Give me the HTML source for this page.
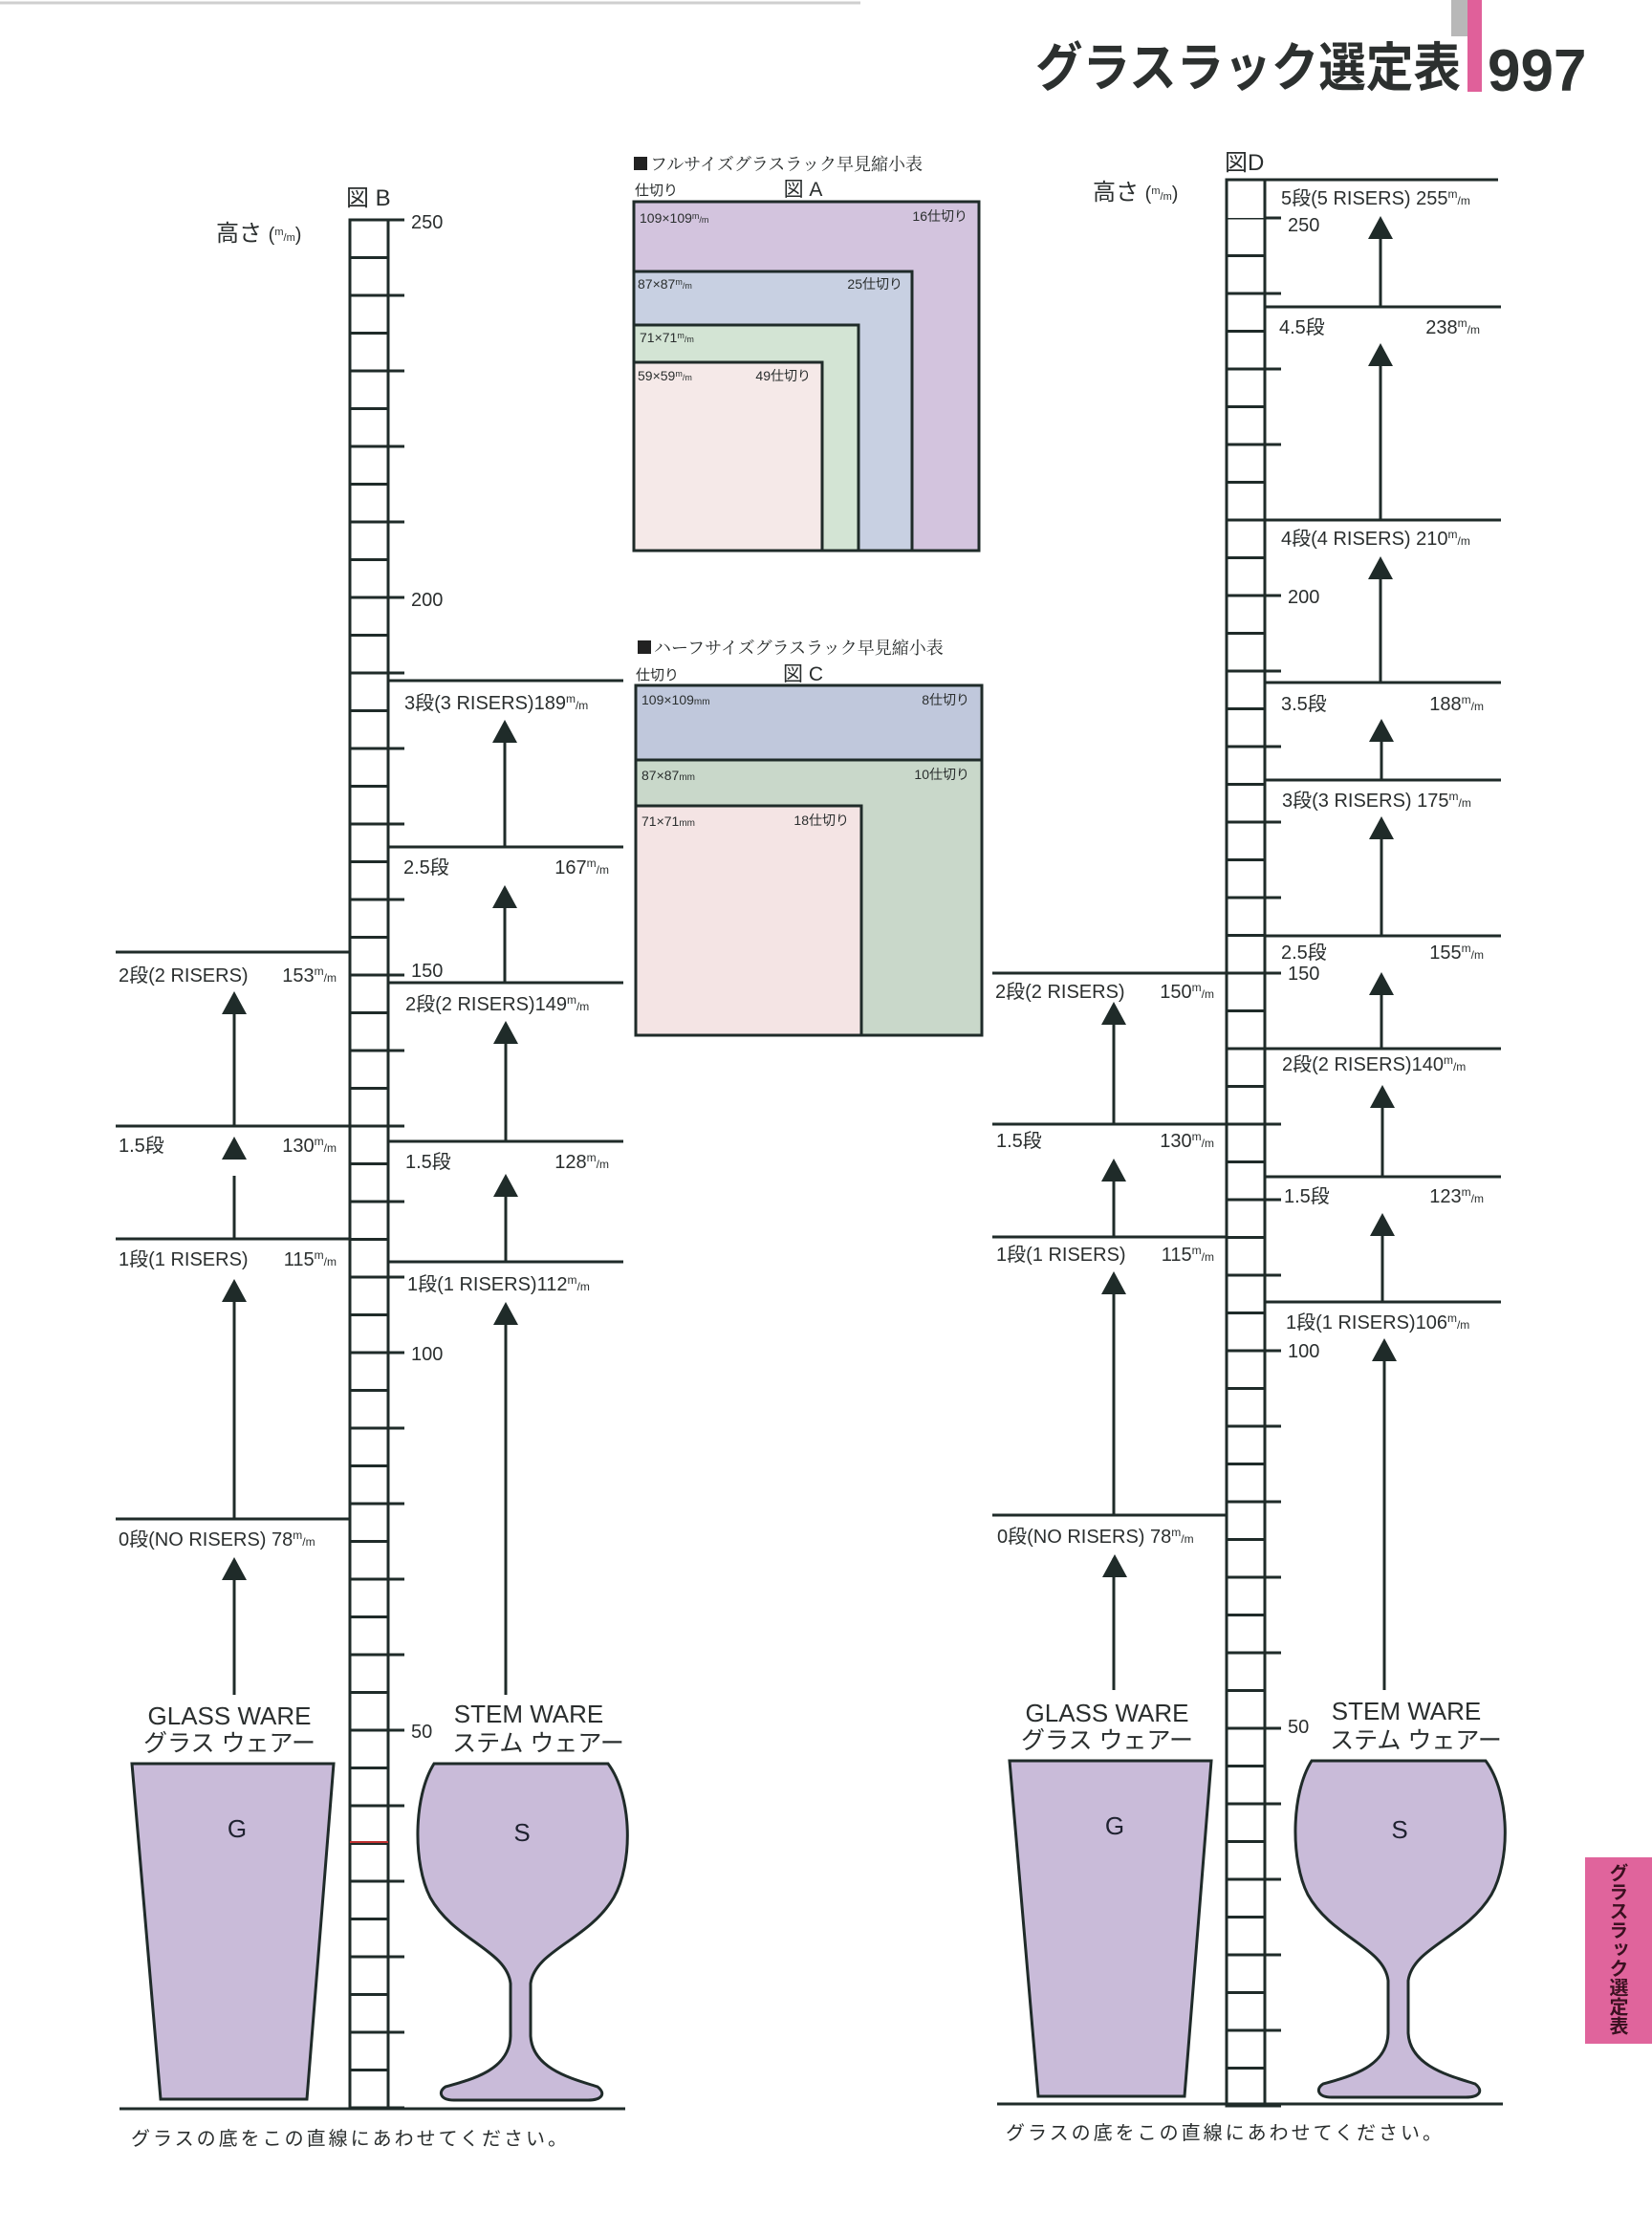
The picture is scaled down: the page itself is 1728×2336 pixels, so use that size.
<!DOCTYPE html>
<html><head><meta charset="utf-8"><style>
html,body{margin:0;padding:0;background:#fff;}
svg{display:block;}
text{font-family:"Liberation Sans","Noto Sans CJK JP",sans-serif;fill:#2a2e2e;}
.tab{position:absolute;left:1658px;top:1943px;width:70px;height:195px;background:#e0649c;}
.tab span{position:absolute;left:22px;top:6px;writing-mode:vertical-rl;font-family:"Noto Sans CJK JP",sans-serif;font-weight:bold;font-size:20px;line-height:26px;color:#3a1020;letter-spacing:0px;}
</style></head><body>
<div style="position:relative;width:1728px;height:2336px;">
<svg width="1728" height="2336" viewBox="0 0 1728 2336" xmlns="http://www.w3.org/2000/svg">
<defs>
<pattern id="rungB" x="0" y="228.5" width="60" height="39.5" patternUnits="userSpaceOnUse"><rect x="0" y="0" width="60" height="3" fill="#1f2b29"/></pattern>
<pattern id="tickB" x="0" y="228.5" width="60" height="79" patternUnits="userSpaceOnUse"><rect x="0" y="0" width="60" height="3" fill="#1f2b29"/></pattern>
<pattern id="rungD" x="0" y="226.5" width="60" height="39.5" patternUnits="userSpaceOnUse"><rect x="0" y="0" width="60" height="3" fill="#1f2b29"/></pattern>
<pattern id="tickD" x="0" y="226.5" width="60" height="79" patternUnits="userSpaceOnUse"><rect x="0" y="0" width="60" height="3" fill="#1f2b29"/></pattern>
</defs>

<line x1="0" y1="3" x2="900" y2="3" stroke="#cfcfcf" stroke-width="3"/>
<rect x="1518" y="0" width="17" height="38" fill="#b8b8b8"/>
<rect x="1535" y="0" width="15" height="96" fill="#e0609a"/>
<text x="1083" y="90" font-size="55" textLength="445" lengthAdjust="spacingAndGlyphs" font-weight="bold" style="fill:#2c302f">グラスラック選定表</text>
<text x="1556" y="95" font-size="62" font-weight="bold" style="fill:#2c302f">997</text>

<!-- Figure A -->
<rect x="663" y="164" width="14" height="14" fill="#222"/>
<text x="680" y="178" font-size="18" style="font-family:'Noto Serif CJK SC','Liberation Serif',serif">フルサイズグラスラック早見縮小表</text>
<text x="664" y="204" font-size="15">仕切り</text>
<text x="840" y="205" font-size="21" text-anchor="middle">図 A</text>
<rect x="663" y="211" width="361" height="365" fill="#d3c4de" stroke="#1f2b29" stroke-width="3"/>
<rect x="663" y="284" width="291" height="292" fill="#c8d0e2" stroke="#1f2b29" stroke-width="3"/>
<rect x="663" y="340" width="235" height="236" fill="#d3e4d4" stroke="#1f2b29" stroke-width="3"/>
<rect x="663" y="379" width="197" height="197" fill="#f5e9e8" stroke="#1f2b29" stroke-width="3"/>
<text x="669" y="233" font-size="14">109×109<tspan font-size="9" dy="-4">m</tspan><tspan font-size="9" dy="4">/m</tspan></text>
<text x="1012" y="231" font-size="14" text-anchor="end">16仕切り</text>
<text x="667" y="302" font-size="14">87×87<tspan font-size="9" dy="-4">m</tspan><tspan font-size="9" dy="4">/m</tspan></text>
<text x="944" y="302" font-size="14" text-anchor="end">25仕切り</text>
<text x="669" y="358" font-size="14">71×71<tspan font-size="9" dy="-4">m</tspan><tspan font-size="9" dy="4">/m</tspan></text>
<text x="667" y="398" font-size="14">59×59<tspan font-size="9" dy="-4">m</tspan><tspan font-size="9" dy="4">/m</tspan></text>
<text x="848" y="398" font-size="14" text-anchor="end">49仕切り</text>

<!-- Figure C -->
<rect x="667" y="670" width="14" height="14" fill="#222"/>
<text x="684" y="684" font-size="18" style="font-family:'Noto Serif CJK SC','Liberation Serif',serif">ハーフサイズグラスラック早見縮小表</text>
<text x="665" y="711" font-size="15">仕切り</text>
<text x="840" y="712" font-size="21" text-anchor="middle">図 C</text>
<rect x="665" y="717" width="362" height="366" fill="#c9d8ca" stroke="#1f2b29" stroke-width="3"/>
<rect x="665" y="717" width="362" height="78" fill="#c0c8dc" stroke="#1f2b29" stroke-width="3"/>
<rect x="665" y="843" width="236" height="240" fill="#f4e4e4" stroke="#1f2b29" stroke-width="3"/>
<text x="671" y="737" font-size="14">109×109<tspan font-size="10">mm</tspan></text>
<text x="1014" y="737" font-size="14" text-anchor="end">8仕切り</text>
<text x="671" y="816" font-size="14">87×87<tspan font-size="10">mm</tspan></text>
<text x="1014" y="815" font-size="14" text-anchor="end">10仕切り</text>
<text x="671" y="864" font-size="14">71×71<tspan font-size="10">mm</tspan></text>
<text x="888" y="863" font-size="14" text-anchor="end">18仕切り</text>

<!-- Ruler B -->
<text x="362" y="215" font-size="24">図 B</text>
<text x="226" y="252" font-size="24">高さ <tspan font-size="20">(</tspan><tspan font-size="11" dy="-6">m</tspan><tspan font-size="11" dy="6">/m</tspan><tspan font-size="20">)</tspan></text>
<rect x="366" y="230" width="40" height="1975" fill="url(#rungB)"/>
<rect x="406" y="228" width="17" height="1980" fill="url(#tickB)"/>
<rect x="366" y="230" width="40" height="1975" fill="none" stroke="#1f2b29" stroke-width="3"/>
<line x1="366" y1="1927" x2="406" y2="1927" stroke="#c03030" stroke-width="2"/>
<g font-size="20">
<text x="430" y="239">250</text>
<text x="430" y="634">200</text>
<text x="430" y="1022">150</text>
<text x="430" y="1423">100</text>
<text x="430" y="1818">50</text>
</g>
<g stroke="#1f2b29" stroke-width="3">
<line x1="121" y1="996" x2="366" y2="996"/>
<line x1="121" y1="1178" x2="366" y2="1178"/>
<line x1="121" y1="1296" x2="366" y2="1296"/>
<line x1="121" y1="1589" x2="366" y2="1589"/>
<line x1="406" y1="712" x2="652" y2="712"/>
<line x1="406" y1="886" x2="652" y2="886"/>
<line x1="406" y1="1028" x2="652" y2="1028"/>
<line x1="406" y1="1194" x2="652" y2="1194"/>
<line x1="406" y1="1320" x2="652" y2="1320"/>
<line x1="245" y1="1178" x2="245" y2="1050"/>
<line x1="245" y1="1296" x2="245" y2="1230"/>
<line x1="245" y1="1589" x2="245" y2="1350"/>
<line x1="245" y1="1773" x2="245" y2="1640"/>
<line x1="528" y1="886" x2="528" y2="765"/>
<line x1="528" y1="1028" x2="528" y2="940"/>
<line x1="529" y1="1194" x2="529" y2="1080"/>
<line x1="529" y1="1320" x2="529" y2="1240"/>
<line x1="529" y1="1773" x2="529" y2="1375"/>
</g>
<g fill="#1f2b29">
<polygon points="245,1037 232,1061 258,1061"/>
<polygon points="245,1189 232,1213 258,1213"/>
<polygon points="245,1338 232,1362 258,1362"/>
<polygon points="245,1629 232,1653 258,1653"/>
<polygon points="528,753 515,777 541,777"/>
<polygon points="528,926 515,950 541,950"/>
<polygon points="529,1068 516,1092 542,1092"/>
<polygon points="529,1228 516,1252 542,1252"/>
<polygon points="529,1362 516,1386 542,1386"/>
</g>
<g font-size="20">
<text x="124" y="1027">2段(2 RISERS)</text><text x="352" y="1027" text-anchor="end">153<tspan font-size="12" dy="-7">m</tspan><tspan font-size="12" dy="7">/m</tspan></text>
<text x="124" y="1205">1.5段</text><text x="352" y="1205" text-anchor="end">130<tspan font-size="12" dy="-7">m</tspan><tspan font-size="12" dy="7">/m</tspan></text>
<text x="124" y="1324">1段(1 RISERS)</text><text x="352" y="1324" text-anchor="end">115<tspan font-size="12" dy="-7">m</tspan><tspan font-size="12" dy="7">/m</tspan></text>
<text x="124" y="1617">0段(NO RISERS) 78<tspan font-size="12" dy="-7">m</tspan><tspan font-size="12" dy="7">/m</tspan></text>
<text x="423" y="742">3段(3 RISERS)189<tspan font-size="12" dy="-7">m</tspan><tspan font-size="12" dy="7">/m</tspan></text>
<text x="422" y="914">2.5段</text><text x="637" y="914" text-anchor="end">167<tspan font-size="12" dy="-7">m</tspan><tspan font-size="12" dy="7">/m</tspan></text>
<text x="424" y="1057">2段(2 RISERS)149<tspan font-size="12" dy="-7">m</tspan><tspan font-size="12" dy="7">/m</tspan></text>
<text x="424" y="1222">1.5段</text><text x="637" y="1222" text-anchor="end">128<tspan font-size="12" dy="-7">m</tspan><tspan font-size="12" dy="7">/m</tspan></text>
<text x="426" y="1350">1段(1 RISERS)112<tspan font-size="12" dy="-7">m</tspan><tspan font-size="12" dy="7">/m</tspan></text>
</g>

<g id="glasses">
<text x="240" y="1804" font-size="26" text-anchor="middle">GLASS WARE</text>
<text x="240" y="1832" font-size="25" text-anchor="middle">グラス ウェアー</text>
<text x="553" y="1802" font-size="26" text-anchor="middle">STEM WARE</text>
<text x="563" y="1832" font-size="25" text-anchor="middle">ステム ウェアー</text>
<polygon points="138,1845 349,1845 321,2196 168,2196" fill="#c9bbd9" stroke="#1f2b29" stroke-width="3"/>
<text x="248" y="1922" font-size="26" text-anchor="middle" style="fill:#1f2230">G</text>
<path d="M454,1845 L636,1845 C662,1880 662,1950 642,1985 C615,2030 560,2040 555,2075 L555,2130 C557,2165 600,2175 625,2183 C634,2190 630,2197 615,2197 L475,2197 C460,2197 458,2188 466,2183 C495,2175 533,2165 534,2130 L534,2075 C530,2040 475,2030 450,1985 C432,1950 432,1880 454,1845 Z" fill="#c9bbd9" stroke="#1f2b29" stroke-width="3"/>
<text x="546" y="1926" font-size="26" text-anchor="middle" style="fill:#1f2230">S</text>
</g>
<line x1="125" y1="2206" x2="654" y2="2206" stroke="#1f2b29" stroke-width="3"/>
<text x="137" y="2244" font-size="20" letter-spacing="3">グラスの底をこの直線にあわせてください。</text>

<!-- Ruler D -->
<text x="1281" y="178" font-size="24">図D</text>
<text x="1143" y="209" font-size="24">高さ <tspan font-size="20">(</tspan><tspan font-size="11" dy="-6">m</tspan><tspan font-size="11" dy="6">/m</tspan><tspan font-size="20">)</tspan></text>
<rect x="1283" y="228" width="40" height="1975" fill="url(#rungD)"/>
<rect x="1323" y="226" width="17" height="1980" fill="url(#tickD)"/>
<rect x="1283" y="188" width="40" height="2015" fill="none" stroke="#1f2b29" stroke-width="3"/>
<g font-size="20">
<text x="1347" y="242">250</text>
<text x="1347" y="631">200</text>
<text x="1347" y="1025">150</text>
<text x="1347" y="1420">100</text>
<text x="1347" y="1813">50</text>
</g>
<g stroke="#1f2b29" stroke-width="3">
<line x1="1038" y1="1018" x2="1283" y2="1018"/>
<line x1="1038" y1="1176" x2="1283" y2="1176"/>
<line x1="1038" y1="1294" x2="1283" y2="1294"/>
<line x1="1038" y1="1585" x2="1283" y2="1585"/>
<line x1="1283" y1="188" x2="1567" y2="188"/>
<line x1="1323" y1="321" x2="1570" y2="321"/>
<line x1="1323" y1="544" x2="1570" y2="544"/>
<line x1="1323" y1="714" x2="1570" y2="714"/>
<line x1="1323" y1="816" x2="1570" y2="816"/>
<line x1="1323" y1="979" x2="1570" y2="979"/>
<line x1="1323" y1="1097" x2="1570" y2="1097"/>
<line x1="1323" y1="1231" x2="1570" y2="1231"/>
<line x1="1323" y1="1362" x2="1570" y2="1362"/>
<line x1="1165" y1="1176" x2="1165" y2="1060"/>
<line x1="1165" y1="1294" x2="1165" y2="1220"/>
<line x1="1165" y1="1585" x2="1165" y2="1340"/>
<line x1="1165" y1="1768" x2="1165" y2="1630"/>
<line x1="1444" y1="321" x2="1444" y2="245"/>
<line x1="1444" y1="544" x2="1444" y2="378"/>
<line x1="1444" y1="714" x2="1444" y2="600"/>
<line x1="1445" y1="816" x2="1445" y2="770"/>
<line x1="1445" y1="979" x2="1445" y2="872"/>
<line x1="1445" y1="1097" x2="1445" y2="1035"/>
<line x1="1446" y1="1231" x2="1446" y2="1153"/>
<line x1="1446" y1="1362" x2="1446" y2="1287"/>
<line x1="1448" y1="1768" x2="1448" y2="1418"/>
</g>
<g fill="#1f2b29">
<polygon points="1165,1048 1152,1072 1178,1072"/>
<polygon points="1165,1212 1152,1236 1178,1236"/>
<polygon points="1165,1330 1152,1354 1178,1354"/>
<polygon points="1166,1626 1153,1650 1179,1650"/>
<polygon points="1444,226 1431,250 1457,250"/>
<polygon points="1444,359 1431,383 1457,383"/>
<polygon points="1444,582 1431,606 1457,606"/>
<polygon points="1445,752 1432,776 1458,776"/>
<polygon points="1445,854 1432,878 1458,878"/>
<polygon points="1445,1017 1432,1041 1458,1041"/>
<polygon points="1446,1135 1433,1159 1459,1159"/>
<polygon points="1446,1269 1433,1293 1459,1293"/>
<polygon points="1448,1400 1435,1424 1461,1424"/>
</g>
<g font-size="20">
<text x="1340" y="214">5段(5 RISERS) 255<tspan font-size="12" dy="-7">m</tspan><tspan font-size="12" dy="7">/m</tspan></text>
<text x="1338" y="349">4.5段</text><text x="1548" y="349" text-anchor="end">238<tspan font-size="12" dy="-7">m</tspan><tspan font-size="12" dy="7">/m</tspan></text>
<text x="1340" y="570">4段(4 RISERS) 210<tspan font-size="12" dy="-7">m</tspan><tspan font-size="12" dy="7">/m</tspan></text>
<text x="1340" y="743">3.5段</text><text x="1552" y="743" text-anchor="end">188<tspan font-size="12" dy="-7">m</tspan><tspan font-size="12" dy="7">/m</tspan></text>
<text x="1341" y="844">3段(3 RISERS) 175<tspan font-size="12" dy="-7">m</tspan><tspan font-size="12" dy="7">/m</tspan></text>
<text x="1340" y="1003">2.5段</text><text x="1552" y="1003" text-anchor="end">155<tspan font-size="12" dy="-7">m</tspan><tspan font-size="12" dy="7">/m</tspan></text>
<text x="1341" y="1120">2段(2 RISERS)140<tspan font-size="12" dy="-7">m</tspan><tspan font-size="12" dy="7">/m</tspan></text>
<text x="1343" y="1258">1.5段</text><text x="1552" y="1258" text-anchor="end">123<tspan font-size="12" dy="-7">m</tspan><tspan font-size="12" dy="7">/m</tspan></text>
<text x="1345" y="1390">1段(1 RISERS)106<tspan font-size="12" dy="-7">m</tspan><tspan font-size="12" dy="7">/m</tspan></text>
<text x="1041" y="1044">2段(2 RISERS)</text><text x="1270" y="1044" text-anchor="end">150<tspan font-size="12" dy="-7">m</tspan><tspan font-size="12" dy="7">/m</tspan></text>
<text x="1042" y="1200">1.5段</text><text x="1270" y="1200" text-anchor="end">130<tspan font-size="12" dy="-7">m</tspan><tspan font-size="12" dy="7">/m</tspan></text>
<text x="1042" y="1319">1段(1 RISERS)</text><text x="1270" y="1319" text-anchor="end">115<tspan font-size="12" dy="-7">m</tspan><tspan font-size="12" dy="7">/m</tspan></text>
<text x="1043" y="1614">0段(NO RISERS) 78<tspan font-size="12" dy="-7">m</tspan><tspan font-size="12" dy="7">/m</tspan></text>
</g>
<use href="#glasses" transform="translate(918,-3)"/>
<line x1="1043" y1="2201" x2="1572" y2="2201" stroke="#1f2b29" stroke-width="3"/>
<text x="1052" y="2238" font-size="20" letter-spacing="3">グラスの底をこの直線にあわせてください。</text>
</svg>
<div class="tab"><span>グラスラック選定表</span></div>
</div>
</body></html>
